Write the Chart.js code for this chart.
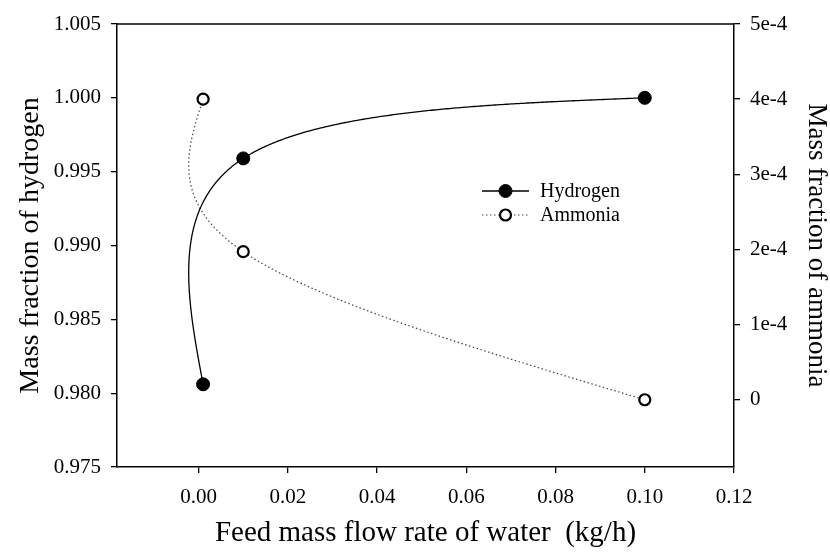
<!DOCTYPE html>
<html>
<head>
<meta charset="utf-8">
<script src="https://cdn.jsdelivr.net/npm/chart.js@4"></script>
<style>
html,body{margin:0;padding:0;background:#fff;}
#wrap{width:830px;height:553px;}
</style>
</head>
<body>
<div id="wrap"><canvas id="c" width="830" height="553"></canvas></div>
<script>
// ---- data ----
const feedWater = [0.001, 0.01, 0.1];
const hydrogen = [0.9806, 0.9959, 1.0000];
const ammonia = [4.0e-4, 1.97e-4, 0];

const xTickValues = [0, 0.02, 0.04, 0.06, 0.08, 0.10, 0.12];
const xTickLabels = ['0.00', '0.02', '0.04', '0.06', '0.08', '0.10', '0.12'];
const yTickValues = [0.975, 0.980, 0.985, 0.990, 0.995, 1.000, 1.005];
const yTickLabels = ['0.975', '0.980', '0.985', '0.990', '0.995', '1.000', '1.005'];
const y2TickValues = [0, 1e-4, 2e-4, 3e-4, 4e-4, 5e-4];
const y2TickLabels = ['0', '1e-4', '2e-4', '3e-4', '4e-4', '5e-4'];

const seriesNames = ['Hydrogen', 'Ammonia'];

const FONT = '"Liberation Serif", "Times New Roman", serif';

function toPoints(xs, ys) { return xs.map((x, i) => ({ x: x, y: ys[i] })); }
function fixTicks(values) {
  return function (scale) { scale.ticks = values.map(v => ({ value: v })); };
}
function labelFrom(values, labels) {
  return function (v) {
    for (let i = 0; i < values.length; i++) {
      if (Math.abs(values[i] - v) < 1e-9) return labels[i];
    }
    return '';
  };
}

// Natural parametric cubic spline (uniform parameter) through pixel points
function naturalSpline1D(vals) {
  const n = vals.length;
  const M = new Array(n).fill(0);
  if (n > 2) {
    const a = [], b = [], c = [], d = [];
    for (let i = 1; i < n - 1; i++) {
      a.push(1); b.push(4); c.push(1);
      d.push(6 * (vals[i - 1] - 2 * vals[i] + vals[i + 1]));
    }
    const m = d.length;
    for (let i = 1; i < m; i++) {
      const w = a[i] / b[i - 1];
      b[i] -= w * c[i - 1];
      d[i] -= w * d[i - 1];
    }
    const sol = new Array(m);
    sol[m - 1] = d[m - 1] / b[m - 1];
    for (let i = m - 2; i >= 0; i--) sol[i] = (d[i] - c[i] * sol[i + 1]) / b[i];
    for (let i = 0; i < m; i++) M[i + 1] = sol[i];
  }
  return function (t) {
    let i = Math.min(Math.floor(t), n - 2);
    if (i < 0) i = 0;
    const u = t - i, v = 1 - u;
    return v * vals[i] + u * vals[i + 1] +
      ((v * v * v - v) * M[i] + (u * u * u - u) * M[i + 1]) / 6;
  };
}

const axisCommon = {
  grid: { display: true, drawOnChartArea: false, drawTicks: true, tickLength: 6, color: '#000', lineWidth: 1.3 },
  border: { display: true, color: '#000', width: 1.5 },
};

const splineLines = {
  id: 'splineLines',
  beforeDatasetsDraw(chart) {
    const ctx = chart.ctx;
    const a = chart.chartArea;
    ctx.save();
    ctx.beginPath();
    ctx.rect(a.left, a.top, a.right - a.left, a.bottom - a.top);
    ctx.clip();
    const order = chart.data.datasets.map((d, i) => i).reverse();
    order.forEach(i => {
      const d = chart.data.datasets[i];
      const pts = chart.getDatasetMeta(i).data;
      if (pts.length < 2) return;
      const fx = naturalSpline1D(pts.map(p => p.x));
      const fy = naturalSpline1D(pts.map(p => p.y));
      const steps = 200 * (pts.length - 1);
      ctx.beginPath();
      for (let s = 0; s <= steps; s++) {
        const t = s / steps * (pts.length - 1);
        const X = fx(t), Y = fy(t);
        if (s === 0) ctx.moveTo(X, Y); else ctx.lineTo(X, Y);
      }
      ctx.strokeStyle = d.borderColor;
      ctx.lineWidth = d.borderWidth;
      ctx.setLineDash(d.borderDash || []);
      ctx.stroke();
      ctx.setLineDash([]);
    });
    ctx.restore();
  }
};

const frameAndLegend = {
  id: 'frameAndLegend',
  afterDraw(chart) {
    const ctx = chart.ctx;
    const a = chart.chartArea;
    ctx.save();
    ctx.strokeStyle = '#000';
    ctx.lineWidth = 1.5;
    ctx.beginPath();
    ctx.moveTo(a.left, a.top);
    ctx.lineTo(a.right, a.top);
    ctx.stroke();

    // legend
    const ds = chart.data.datasets;
    const lx0 = 482, lx1 = 529, mx = 505.5, tx = 540;
    const rows = [191, 215];
    ctx.font = '20px ' + FONT;
    ctx.textBaseline = 'middle';
    ctx.textAlign = 'left';
    ds.forEach((d, i) => {
      const y = rows[i];
      ctx.beginPath();
      ctx.strokeStyle = d.borderColor;
      ctx.lineWidth = d.borderWidth;
      ctx.setLineDash(d.borderDash || []);
      ctx.moveTo(lx0, y);
      ctx.lineTo(lx1, y);
      ctx.stroke();
      ctx.setLineDash([]);
      ctx.beginPath();
      ctx.arc(mx, y, d.pointRadius, 0, Math.PI * 2);
      ctx.fillStyle = d.pointBackgroundColor;
      ctx.fill();
      ctx.lineWidth = d.pointBorderWidth;
      ctx.strokeStyle = d.pointBorderColor;
      ctx.stroke();
      ctx.fillStyle = '#000';
      ctx.fillText(d.label, tx, y + 1);
    });
    ctx.restore();
  }
};

new Chart(document.getElementById('c'), {
  type: 'line',
  data: {
    datasets: [
      {
        label: seriesNames[0],
        data: toPoints(feedWater, hydrogen),
        yAxisID: 'y',
        showLine: false,
        borderColor: '#000',
        borderWidth: 1.3,
        pointRadius: 6.5,
        pointBackgroundColor: '#000',
        pointBorderColor: '#000',
        pointBorderWidth: 1,
        fill: false
      },
      {
        label: seriesNames[1],
        data: toPoints(feedWater, ammonia),
        yAxisID: 'y2',
        showLine: false,
        borderColor: '#444',
        borderWidth: 1.2,
        borderDash: [1.5, 2.5],
        pointRadius: 5.5,
        pointBackgroundColor: '#fff',
        pointBorderColor: '#000',
        pointBorderWidth: 2.2,
        fill: false
      }
    ]
  },
  options: {
    responsive: false,
    animation: false,
    layout: { padding: { top: 24, left: 0, right: 0, bottom: 0 } },
    plugins: { legend: { display: false }, tooltip: { enabled: false } },
    scales: {
      x: Object.assign({}, axisCommon, {
        type: 'linear',
        position: 'bottom',
        min: -0.0183,
        max: 0.12,
        afterBuildTicks: fixTicks(xTickValues),
        afterFit: s => { s.height = 86; },
        ticks: {
          color: '#000', font: { family: FONT, size: 21 }, padding: 12,
          maxRotation: 0, autoSkip: false,
          callback: labelFrom(xTickValues, xTickLabels)
        },
        title: {
          display: true, text: 'Feed mass flow rate of water  (kg/h)', color: '#000',
          font: { family: FONT, size: 29, lineHeight: 1 }, padding: { top: 0, bottom: 5 }
        }
      }),
      y: Object.assign({}, axisCommon, {
        type: 'linear',
        position: 'left',
        min: 0.975,
        max: 1.005,
        afterBuildTicks: fixTicks(yTickValues),
        afterFit: s => { s.width = 117; },
        ticks: {
          color: '#000', font: { family: FONT, size: 21 }, padding: 10, autoSkip: false,
          callback: labelFrom(yTickValues, yTickLabels)
        },
        title: {
          display: true, text: 'Mass fraction of hydrogen', color: '#000',
          font: { family: FONT, size: 28, lineHeight: 1 }, padding: { top: 17, bottom: 0 }
        }
      }),
      y2: Object.assign({}, axisCommon, {
        type: 'linear',
        position: 'right',
        min: -0.895e-4,
        max: 5e-4,
        afterBuildTicks: fixTicks(y2TickValues),
        afterFit: s => { s.width = 96; },
        ticks: {
          color: '#000', font: { family: FONT, size: 21 }, padding: 10, autoSkip: false,
          callback: labelFrom(y2TickValues, y2TickLabels)
        },
        title: {
          display: true, text: 'Mass fraction of ammonia', color: '#000',
          font: { family: FONT, size: 27, lineHeight: 1 }, padding: { top: 0, bottom: 0 }
        }
      })
    }
  },
  plugins: [splineLines, frameAndLegend]
});
</script>
</body>
</html>
